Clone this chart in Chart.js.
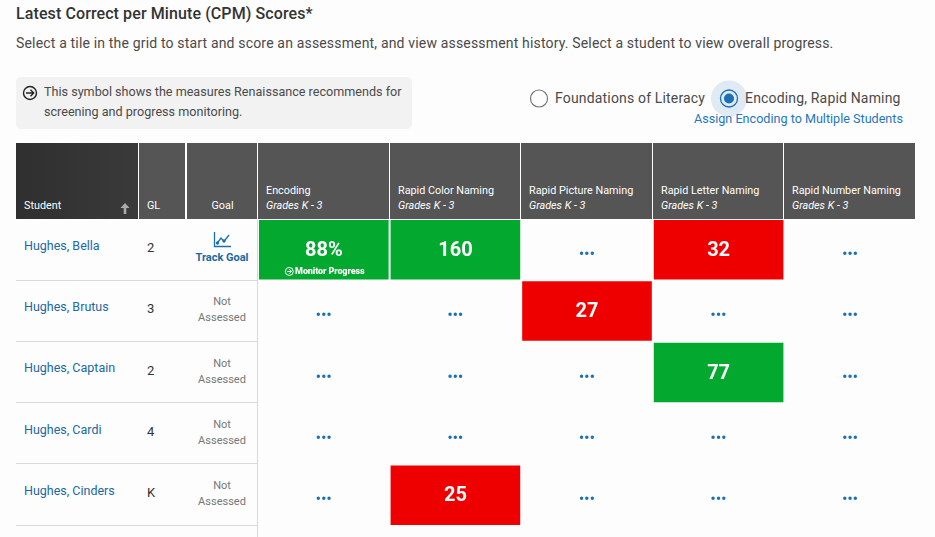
<!DOCTYPE html>
<html>
<head>
<meta charset="utf-8">
<title>Latest Correct per Minute (CPM) Scores</title>
<script src="https://cdn.jsdelivr.net/npm/chart.js@4"></script>
<style>
html, body { margin: 0; padding: 0; background: #fdfdfd; width: 935px; height: 537px; overflow: hidden; font-family: Roboto, sans-serif; color: #333; }
.t { position: absolute; white-space: nowrap; }
.title { left: 16px; top: 4px; font-size: 16px; font-weight: 500; line-height: 20px; color: #333; letter-spacing: .1px; }
.sub { left: 16px; top: 34px; font-size: 14px; line-height: 18px; color: #4a4a4a; letter-spacing: .17px; }
.note { position: absolute; left: 16px; top: 77px; width: 396px; height: 52px; background: #f2f2f2; border-radius: 5px; }
.noteText { left: 44px; top: 82px; font-size: 12.6px; line-height: 20px; color: #4a4a4a; }
.radioLabel { font-size: 14px; line-height: 18px; top: 89px; color: #4a4a4a; letter-spacing: .17px; }
.assign { left: 694px; top: 110px; font-size: 12.6px; line-height: 18px; color: #1f77c0; }
.head { position: absolute; top: 143px; height: 76px; background: #555; }
.headText { font-size: 10.8px; line-height: 15px; color: #fff; }
.name { font-size: 12.5px; line-height: 16px; color: #20699f; left: 24px; }
.grade { font-size: 13px; line-height: 16px; color: #333; left: 147px; }
.goal { font-size: 11px; line-height: 16px; color: #777; left: 187px; width: 70px; text-align: center; }
.rule { position: absolute; left: 16px; width: 241px; height: 1px; background: #d8d8d8; }
.vrule { position: absolute; left: 257px; top: 220px; width: 1px; height: 317px; background: #d8d8d8; }
#grid { position: absolute; left: 258px; top: 220px; }
svg { position: absolute; }
</style>
</head>
<body>
<div class="t title">Latest Correct per Minute (CPM) Scores*</div>
<div class="t sub">Select a tile in the grid to start and score an assessment, and view assessment history. Select a student to view overall progress.</div>
<div class="note"></div>
<svg style="left:22px;top:85px" width="16" height="16" viewBox="0 0 16 16" fill="none" stroke="#222" stroke-width="1.4"><circle cx="8" cy="8" r="6.5"/><path d="M4 8h7.5M8.5 4.8 11.7 8 8.5 11.2"/></svg>
<div class="t noteText">This symbol shows the measures Renaissance recommends for<br>screening and progress monitoring.</div>
<svg style="left:528px;top:80px" width="220" height="38" viewBox="0 0 220 38"><circle cx="11" cy="18.500" r="8.500" fill="none" stroke="#777" stroke-width="1.200"/><circle cx="201" cy="18.500" r="18" fill="#dfeaf4"/><circle cx="201" cy="18.500" r="8.500" fill="none" stroke="#1a6fb5" stroke-width="1.300"/><circle cx="201" cy="18.500" r="5" fill="#1a6fb5"/></svg>
<div class="t radioLabel" style="left:555px">Foundations of Literacy</div>
<div class="t radioLabel" style="left:745px">Encoding, Rapid Naming</div>
<div class="t assign">Assign Encoding to Multiple Students</div>
<div id="table"></div>
<div class="vrule"></div>
<canvas id="grid" width="658" height="317"></canvas>

<script>
var students = ["Hughes, Bella", "Hughes, Brutus", "Hughes, Captain", "Hughes, Cardi", "Hughes, Cinders"];
var gradeLevels = ["2", "3", "2", "4", "K"];
var measures = ["Encoding", "Rapid Color Naming", "Rapid Picture Naming", "Rapid Letter Naming", "Rapid Number Naming"];
var measureGrades = "Grades K - 3";

// one list per measure, one entry per student
var encodingScores = [88, null, null, null, null];
var colorScores = [160, null, null, null, 25];
var pictureScores = [null, 27, null, null, null];
var letterScores = [32, null, 77, null, null];
var numberScores = [null, null, null, null, null];
var encodingGreen = [true, false, false, false, false];
var colorGreen = [true, false, false, false, false];
var pictureGreen = [false, false, false, false, false];
var letterGreen = [false, false, true, false, false];
var numberGreen = [false, false, false, false, false];
var scoreSuffix = ["%", "", "", "", ""];

var allScores = [encodingScores, colorScores, pictureScores, letterScores, numberScores];
var allGreen = [encodingGreen, colorGreen, pictureGreen, letterGreen, numberGreen];

var ROW_H = 61.35;
var GRID_H = 317;
var GREEN = "#02a92e";
var RED = "#ef0000";
var BLUE = "#1a6fb5";

// table header and the left hand columns are plain html
var table = document.getElementById("table");
var html = "";
function headCell(left, width, bg) {
    return '<div class="head" style="left:' + left + 'px;width:' + width + 'px;' + (bg ? 'background:' + bg : '') + '"></div>';
}
function text(cls, left, top, str, extra) {
    return '<div class="t ' + cls + '" style="' + (left === null ? '' : 'left:' + left + 'px;') + 'top:' + top + 'px;' + (extra || '') + '">' + str + '</div>';
}
html += headCell(16, 122, "linear-gradient(90deg,#2f2f2f,#3a3a3a)");
html += headCell(139, 46);
html += headCell(187, 70);
html += text("headText", 24, 198, "Student");
html += text("headText", 147, 198, "GL");
html += text("headText", 211.5, 198, "Goal");
html += '<svg style="left:120px;top:203px" width="10" height="11" viewBox="0 0 10 11" fill="#aaa"><path d="M5 0 9.500 5H6.300V11H3.700V5H.5z"/></svg>';
var colLefts = [258, 390, 521, 653, 784];
var colWidths = [131, 130, 131, 130, 131];
measures.forEach(function (m, i) {
    html += headCell(colLefts[i], colWidths[i]);
    html += text("headText", colLefts[i] + 8, 183, m + "<br><i>" + measureGrades + "</i>");
});
students.forEach(function (s, r) {
    var top = 220 + r * 61.25;
    html += text("name", null, Math.floor(top + 0.4) + 18, s);
    html += text("grade", null, Math.round(top + 20), gradeLevels[r]);
    if (r > 0) {
        html += text("goal", null, top + 13, "Not<br>Assessed");
    }
    html += '<div class="rule" style="top:' + Math.round(top + 59.500) + 'px"></div>';
});
html += '<svg style="left:213px;top:231px" width="19" height="18" viewBox="0 0 19 18" fill="none" stroke="#1a6fb5" stroke-width="1.300"><path d="M1.500 1v14.500H18"/><path d="M4 12.500 8 7l3 3.500L16 4"/><circle cx="4.500" cy="12" r="1" fill="#1a6fb5"/><circle cx="11" cy="10" r="1" fill="#1a6fb5"/></svg>';
html += '<div class="t" style="left:187px;top:251px;width:70px;text-align:center;font-size:11px;line-height:14px;font-weight:700;color:#20699f">Track Goal</div>';
table.innerHTML = html;

function cellsOf(green) {
    var out = [];
    allScores.forEach(function (list, c) {
        list.forEach(function (v, r) {
            if (v !== null && allGreen[c][r] === green) {
                out.push({x: measures[c], y: [r, r + 0.97]});
            }
        });
    });
    return out;
}

var cellLabels = {
    id: "cellLabels",
    afterDatasetsDraw: function (chart) {
        var ctx = chart.ctx;
        var xs = chart.scales.x;
        var ys = chart.scales.y;
        ctx.save();
        ctx.textAlign = "center";
        ctx.textBaseline = "middle";
        allScores.forEach(function (list, c) {
            var cx = xs.getPixelForValue(c);
            list.forEach(function (v, r) {
                var cy = ys.getPixelForValue(r + 0.48);
                if (v === null) {
                    ctx.fillStyle = BLUE;
                    ctx.font = "700 14px Roboto";
                    ctx.letterSpacing = "0.3px";
                    ctx.fillText("•••", cx, cy + 6);
                    ctx.letterSpacing = "0px";
                    return;
                }
                ctx.fillStyle = "#fff";
                ctx.font = "700 20px Roboto";
                ctx.fillText(v + scoreSuffix[c], cx, cy + 1.5);
                if (c === 0) {
                    ctx.font = "900 9px Roboto";
                    ctx.letterSpacing = "-0.1px";
                    ctx.fillText("Monitor Progress", cx + 6, cy + 22);
                    ctx.letterSpacing = "0px";
                    var ix = cx - 34.5, iy = cy + 22;
                    ctx.strokeStyle = "#fff";
                    ctx.lineWidth = 1;
                    ctx.beginPath();
                    ctx.arc(ix, iy, 4, 0, Math.PI * 2);
                    ctx.moveTo(ix - 2.2, iy);
                    ctx.lineTo(ix + 2.2, iy);
                    ctx.moveTo(ix, iy - 2.2);
                    ctx.lineTo(ix + 2.2, iy);
                    ctx.lineTo(ix, iy + 2.2);
                    ctx.stroke();
                }
            });
        });
        ctx.restore();
    }
};

new Chart(document.getElementById("grid").getContext("2d"), {
    type: "bar",
    data: {
        labels: measures,
        datasets: [
            {label: "At or above", data: cellsOf(true), backgroundColor: GREEN, borderWidth: 0},
            {label: "Below", data: cellsOf(false), backgroundColor: RED, borderWidth: 0}
        ]
    },
    options: {
        responsive: false,
        animation: false,
        grouped: false,
        layout: {padding: 0},
        barPercentage: 0.985,
        categoryPercentage: 1,
        plugins: {legend: {display: false}, tooltip: {enabled: false}},
        scales: {
            x: {display: false},
            y: {display: false, reverse: true, min: 0, max: GRID_H / ROW_H}
        }
    },
    plugins: [cellLabels]
});
</script>
</body>
</html>
